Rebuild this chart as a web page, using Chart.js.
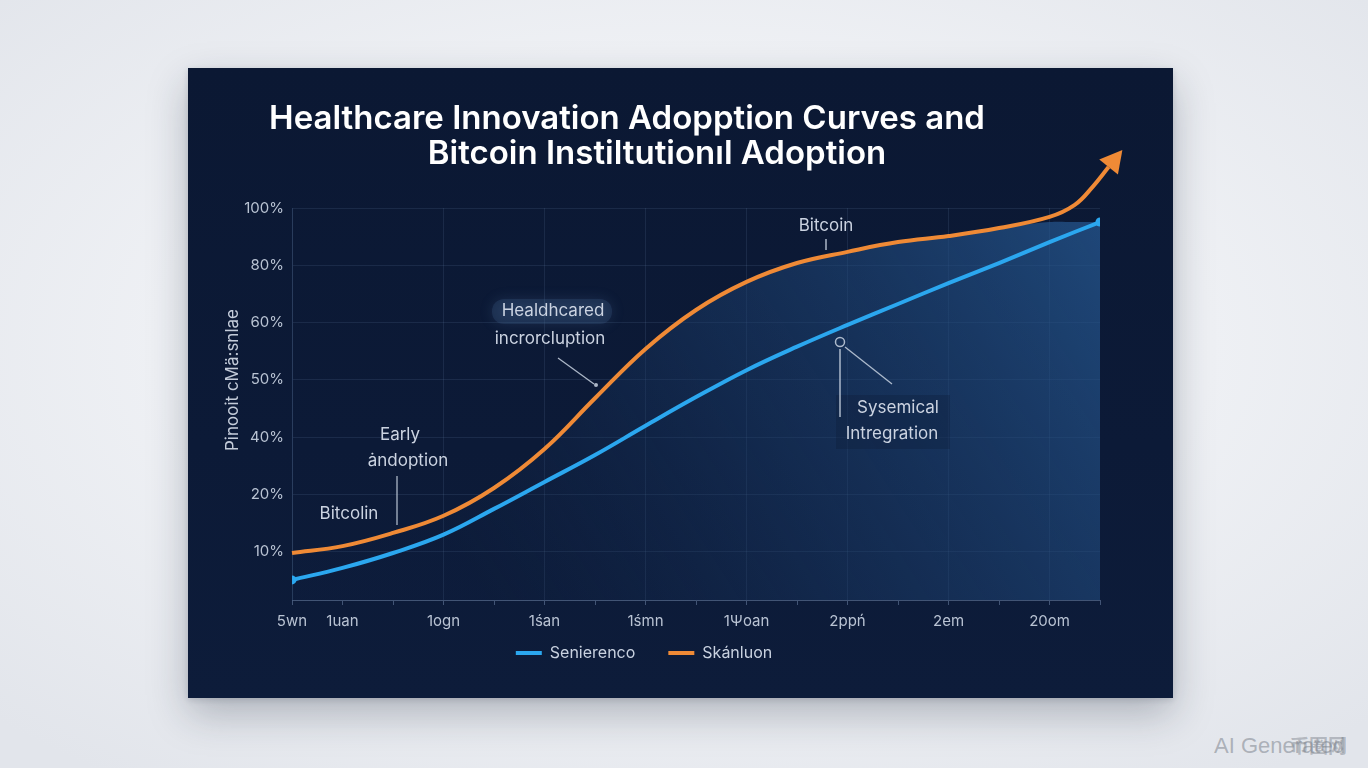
<!DOCTYPE html>
<html>
<head>
<meta charset="utf-8">
<script src="https://cdn.jsdelivr.net/npm/chart.js@4.4.1/dist/chart.umd.min.js"></script>
<style>
  html, body { margin: 0; padding: 0; width: 1368px; height: 768px; overflow: hidden; }
  body {
    background: radial-gradient(ellipse 70% 70% at 50% 45%, #f7f8fa 0%, #eef0f4 55%, #e2e5eb 100%);
    font-family: Inter, "Noto Sans", sans-serif;
  }
  #card {
    position: absolute; left: 188px; top: 68px; width: 985px; height: 630px;
    background: linear-gradient(180deg, #0b1833 0%, #0c1a37 60%, #0d1c3a 100%);
    box-shadow: 0 16px 38px rgba(25, 35, 55, 0.28), 0 2px 6px rgba(25, 35, 55, 0.15);
  }
  #card canvas { position: absolute; left: 0; top: 0; }
  .wm { position: absolute; left: 1214px; top: 733px; font: 22px "Liberation Sans", sans-serif; color: rgba(140, 146, 155, 0.65); white-space: nowrap; }
  .wm2 { position: absolute; left: 1290px; top: 731px; font: bold 19px "Noto Sans CJK SC", sans-serif; color: rgba(120, 126, 135, 0.45); }
</style>
</head>
<body>
<div id="card"><canvas id="chart" width="985" height="630"></canvas></div>
<div class="wm">AI Generated</div>
<div class="wm2">币圈网</div>
<script>
// Steps along the time axis (one per minor tick)
const steps = [0, 1, 2, 3, 4, 5, 6, 7, 8, 9, 10, 11, 12, 13, 14, 15, 16];
const xLabels = ['5wn', '1uan', '1ogn', '1śan', '1śmn', '1Ψoan', '2ppń', '2em', '20om'];
const xLabelSteps = [0, 1, 3, 5, 7, 9, 11, 13, 15];
const xGridSteps = [0, 3, 5, 7, 9, 11, 13, 15];

// Adoption axis: evenly spaced ticks carrying these percentages
const yTickLabels = ['10%', '20%', '40%', '50%', '60%', '80%', '100%'];
const yTickValues = [10, 20, 40, 50, 60, 80, 100];

// Adoption share (%) per step
const blueVals = [5.1, 7.2, 9.8, 13.0, 17.5, 24.4, 33.8, 42.0, 47.0, 51.7, 55.8, 59.6, 66.5, 73.8, 80.8, 88.1, 95.1];
// The orange curve runs on past the last step and ends in an arrow
const orangeSteps = [0, 1, 2, 3, 4, 5, 6, 7, 8, 9, 10, 11, 12, 13, 14, 15, 15.5, 15.85, 16.17];
const orangeVals = [9.8, 11.0, 13.3, 16.3, 22.3, 35.9, 46.8, 55.4, 64.4, 74.2, 80.8, 84.7, 88.1, 90.2, 93.0, 96.9, 101.1, 107.3, 114.3];

const seriesNames = ['Senierenco', 'Skánluon'];
const BLUE = '#2ba7ef';
const ORANGE = '#ef8a36';

// Map a percentage onto the evenly spaced tick positions
function toAxis(p) {
  const v = yTickValues;
  if (p <= v[0]) return (p - v[0]) / (v[1] - v[0]);
  for (let i = 1; i < v.length; i++) {
    if (p <= v[i]) return i - 1 + (p - v[i - 1]) / (v[i] - v[i - 1]);
  }
  const n = v.length - 1;
  return n + (p - v[n]) / (v[n] - v[n - 1]);
}

const bluePoints = steps.map((s, i) => ({ x: s, y: toAxis(blueVals[i]) }));
const orangePoints = orangeSteps.map((s, i) => ({ x: s, y: toAxis(orangeVals[i]) }));
// Shaded band under the orange curve, capped at the blue curve's final level
const fillCap = blueVals[blueVals.length - 1];
const fillPoints = orangeSteps.map((s, i) => ({ x: s, y: toAxis(Math.min(orangeVals[i], fillCap)) }));

const FONT = 'Inter, "Noto Sans", sans-serif';
const CARD = { x: 188, y: 68 };
const pg = (x, y) => [x - CARD.x, y - CARD.y];

function drawText(ctx, str, x, y, font, color, align) {
  const [cx, cy] = pg(x, y);
  ctx.font = font;
  ctx.fillStyle = color;
  ctx.textAlign = align || 'center';
  ctx.textBaseline = 'middle';
  ctx.fillText(str, cx, cy);
}
function drawLine(ctx, x1, y1, x2, y2, color, w) {
  const [a, b] = pg(x1, y1), [c, d] = pg(x2, y2);
  ctx.strokeStyle = color;
  ctx.lineWidth = w || 1.5;
  ctx.beginPath(); ctx.moveTo(a, b); ctx.lineTo(c, d); ctx.stroke();
}

const decor = {
  id: 'decor',
  afterLayout(chart) {
    // pull the legend row up closer to the axis labels
    const lg = chart.legend;
    if (lg) { lg.top -= 24; lg.bottom -= 24; }
  },
  afterDatasetsDraw(chart) {
    const ctx = chart.ctx;
    // arrowhead at the end of the orange curve
    const pts = chart.getDatasetMeta(1).data;
    const a = pts[pts.length - 2], b = pts[pts.length - 1];
    let dx = b.x - a.x, dy = b.y - a.y;
    const len = Math.hypot(dx, dy); dx /= len; dy /= len;
    const L = 22, W = 12;
    ctx.save();
    ctx.fillStyle = ORANGE;
    ctx.beginPath();
    ctx.moveTo(b.x + dx * L, b.y + dy * L);
    ctx.lineTo(b.x - dy * W, b.y + dx * W);
    ctx.lineTo(b.x + dy * W, b.y - dx * W);
    ctx.closePath();
    ctx.fill();
    ctx.restore();
  },
  afterDraw(chart) {
    const ctx = chart.ctx;
    ctx.save();
    // title
    drawText(ctx, 'Healthcare Innovation Adopption Curves and', 627, 119, `600 33px ${FONT}`, '#ffffff');
    drawText(ctx, 'Bitcoin Instiltutionıl Adoption', 657, 154, `600 33px ${FONT}`, '#ffffff');

    // axis title (rotated)
    const [tx, ty] = pg(233, 380);
    ctx.save();
    ctx.translate(tx, ty);
    ctx.rotate(-Math.PI / 2);
    ctx.font = `17px ${FONT}`;
    ctx.fillStyle = '#c3cbd9';
    ctx.textAlign = 'center';
    ctx.textBaseline = 'middle';
    ctx.fillText('Pinooit cMä:snlae', 0, 0);
    ctx.restore();

    const txt = '#cbd3e1';
    const ln = 'rgba(200, 210, 225, 0.85)';
    const f = `17px ${FONT}`;

    // "Bitcoin" label near the top of the orange curve
    drawText(ctx, 'Bitcoin', 826, 226, f, txt);
    drawLine(ctx, 826, 239, 826, 250, ln, 1.5);

    // Healthcare callout with soft glow
    const [gx, gy] = pg(492, 299);
    ctx.save();
    ctx.shadowColor = 'rgba(110, 150, 200, 0.5)';
    ctx.shadowBlur = 14;
    ctx.fillStyle = 'rgba(55, 85, 125, 0.3)';
    ctx.beginPath();
    ctx.roundRect(gx, gy, 120, 25, 12);
    ctx.fill();
    ctx.restore();
    drawText(ctx, 'Healdhcared', 553, 311, f, txt);
    drawText(ctx, 'incrorcluption', 550, 339, f, txt);
    drawLine(ctx, 558, 358, 594, 384, ln, 1.3);
    const [ax, ay] = pg(596, 385);
    ctx.fillStyle = ln;
    ctx.beginPath(); ctx.arc(ax, ay, 2, 0, Math.PI * 2); ctx.fill();

    // Early adoption callout
    drawText(ctx, 'Early', 400, 435, f, txt);
    drawText(ctx, 'ȧndoption', 408, 461, f, txt);
    drawLine(ctx, 397, 476, 397, 525, ln, 1.3);
    drawText(ctx, 'Bitcolin', 349, 514, f, txt);

    // Systemic integration callout
    const [bx, by] = pg(836, 395);
    ctx.fillStyle = 'rgba(12, 26, 52, 0.3)';
    ctx.fillRect(bx, by, 114, 54);
    const [ox, oy] = pg(840, 342);
    ctx.strokeStyle = ln; ctx.lineWidth = 1.5;
    ctx.beginPath(); ctx.arc(ox, oy, 4.5, 0, Math.PI * 2); ctx.stroke();
    drawLine(ctx, 840, 349, 840, 417, ln, 1.5);
    drawLine(ctx, 845, 347, 892, 384, ln, 1.3);
    drawText(ctx, 'Sysemical', 898, 408, f, txt);
    drawText(ctx, 'Intregration', 892, 434, f, txt);
    ctx.restore();
  }
};

const ctx = document.getElementById('chart').getContext('2d');
const fillGrad = ctx.createLinearGradient(912, 140, 300, 532);
fillGrad.addColorStop(0, 'rgba(38, 88, 145, 0.75)');
fillGrad.addColorStop(0.55, 'rgba(28, 62, 108, 0.45)');
fillGrad.addColorStop(1, 'rgba(20, 40, 75, 0.12)');

const gridCol = 'rgba(105, 135, 175, 0.16)';

new Chart(ctx, {
  type: 'line',
  data: {
    datasets: [
      {
        label: seriesNames[0],
        data: bluePoints,
        borderColor: BLUE,
        backgroundColor: BLUE,
        borderWidth: 4,
        tension: 0.4,
        pointRadius: c => (c.dataIndex === 0 || c.dataIndex === bluePoints.length - 1) ? 4.5 : 0,
        pointBackgroundColor: BLUE,
        pointBorderWidth: 0,
        fill: false
      },
      {
        label: seriesNames[1],
        data: orangePoints,
        borderColor: ORANGE,
        backgroundColor: ORANGE,
        borderWidth: 4,
        tension: 0.4,
        capBezierPoints: false,
        pointRadius: 0,
        fill: false,
        clip: false
      },
      {
        label: 'band',
        data: fillPoints,
        borderWidth: 0,
        borderColor: 'rgba(0,0,0,0)',
        backgroundColor: fillGrad,
        tension: 0.4,
        pointRadius: 0,
        fill: 'start'
      }
    ]
  },
  options: {
    responsive: false,
    animation: false,
    devicePixelRatio: 1,
    layout: { padding: { left: 0, top: 140, right: 73, bottom: 3 } },
    plugins: {
      title: { display: false },
      tooltip: { enabled: false },
      legend: {
        position: 'bottom',
        labels: {
          color: '#c9d2e0',
          font: { size: 16, family: FONT },
          boxWidth: 26,
          boxHeight: 4,
          padding: 33,
          generateLabels: chart => chart.data.datasets.slice(0, 2).map((d, i) => ({
            text: d.label,
            fillStyle: d.borderColor,
            strokeStyle: d.borderColor,
            lineWidth: 0,
            hidden: false,
            datasetIndex: i,
            fontColor: '#c9d2e0'
          }))
        }
      }
    },
    scales: {
      x: {
        type: 'linear',
        min: 0,
        max: 16,
        afterBuildTicks: s => { s.ticks = steps.map(v => ({ value: v })); },
        afterFit: s => { s.height = 36; },
        ticks: {
          autoSkip: false,
          maxRotation: 0,
          color: '#b9c3d3',
          font: { size: 15, family: FONT },
          padding: 7,
          callback: v => { const i = xLabelSteps.indexOf(v); return i >= 0 ? xLabels[i] : ''; }
        },
        grid: {
          color: c => (c.tick && xGridSteps.includes(c.tick.value)) ? gridCol : 'rgba(0,0,0,0)',
          tickColor: 'rgba(130, 155, 190, 0.45)',
          tickLength: 5,
          drawTicks: true
        },
        border: { color: 'rgba(130, 155, 190, 0.45)', width: 1 }
      },
      y: {
        type: 'linear',
        min: -0.84,
        max: 6,
        afterBuildTicks: s => { s.ticks = yTickLabels.map((_, i) => ({ value: i })); },
        afterFit: s => { s.width = 104; },
        ticks: {
          color: '#b9c3d3',
          font: { size: 15, family: FONT },
          padding: 8,
          callback: v => yTickLabels[v] ?? ''
        },
        grid: { color: gridCol, drawTicks: false },
        border: { display: true, color: 'rgba(105, 135, 175, 0.2)' }
      }
    }
  },
  plugins: [decor]
});
</script>
</body>
</html>
